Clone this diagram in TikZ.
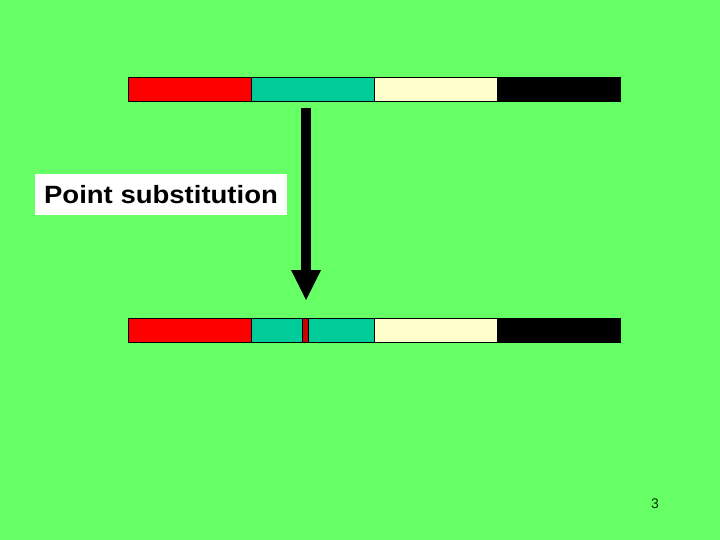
\documentclass[tikz,border=0pt]{standalone}
\usepackage{fontspec}
\setmainfont{Liberation Sans}
\newfontfamily\widefont[FakeStretch=1.1]{Liberation Sans}
\definecolor{bg}{HTML}{66FF66}
\definecolor{segred}{HTML}{FF0000}
\definecolor{segteal}{HTML}{00CC99}
\definecolor{segcream}{HTML}{FFFFCC}
\definecolor{segdark}{HTML}{CC0000}
\begin{document}
\begin{tikzpicture}[x=1pt,y=-1pt,
  seg/.style={draw=black,line width=1pt},
  lbl/.style={fill=white,inner sep=0pt,minimum width=252pt,minimum height=41pt,font=\widefont\fontsize{25}{30}\selectfont\bfseries}]
\fill[bg] (0,0) rectangle (720,540);
\useasboundingbox (0,0) rectangle (720,540);
% top bar
\filldraw[seg,fill=segred] (128,78) rectangle (251,102);
\filldraw[seg,fill=segteal] (251,78) rectangle (374,102);
\filldraw[seg,fill=segcream] (374,78) rectangle (497,102);
\filldraw[seg,fill=black] (497,78) rectangle (620,102);
% bottom bar
\filldraw[seg,fill=segred] (128,318) rectangle (251,342);
\filldraw[seg,fill=segteal] (251,318) rectangle (302,342);
\filldraw[seg,fill=segdark] (302,318) rectangle (308,342);
\filldraw[seg,fill=segteal] (308,318) rectangle (374,342);
\filldraw[seg,fill=segcream] (374,318) rectangle (497,342);
\filldraw[seg,fill=black] (497,318) rectangle (620,342);
% arrow
\coordinate (atop) at (306,108);
\coordinate (abot) at (306,300);
\fill[black] (301,108) rectangle (311,270);
\fill[black] (291,270) -- (321,270) -- (abot) -- cycle;
% label
\node[lbl] (label) at (161,194.5) {Point substitution};
\node[font=\fontsize{14}{16}\selectfont,text=black!80!green] (pg) at (655,503.5) {3};
\end{tikzpicture}
\end{document}
